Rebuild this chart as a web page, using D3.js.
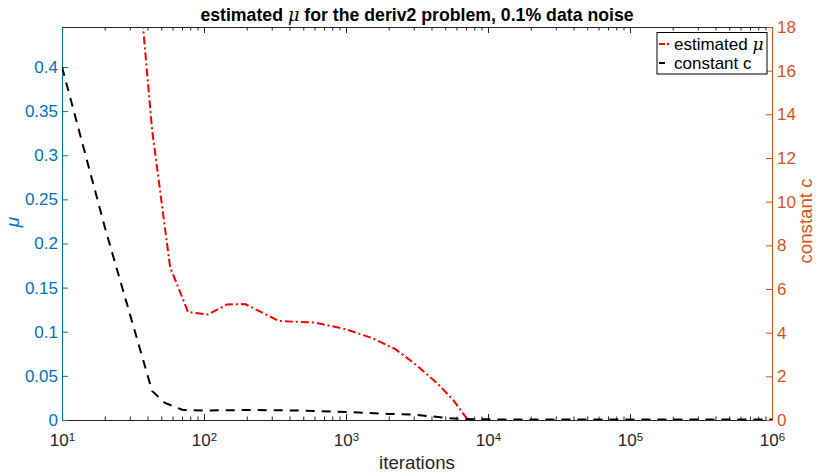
<!DOCTYPE html>
<html>
<head>
<meta charset="utf-8">
<script src="https://cdn.jsdelivr.net/npm/d3@7/dist/d3.min.js"></script>
<style>
  body { margin: 0; background: #fff; }
  svg { display: block; }
  text { font-family: "Liberation Sans", Arial, Helvetica, sans-serif; }
</style>
</head>
<body>
<svg id="chart" width="820" height="476"></svg>
<script>
// estimated regularisation parameter mu per iteration count (left axis)
const muIterations = [32.2, 43.1, 57.7, 77.2, 106.6, 145, 194.4, 337, 605, 984, 1524, 2213, 3062, 4375, 5675, 7230];
const muValues     = [0.561, 0.3286, 0.1734, 0.1224, 0.1195, 0.1309, 0.1314, 0.1122, 0.1103, 0.1031, 0.0929, 0.0805, 0.0635, 0.0419, 0.0227, 0.0];

// constant c per iteration count (right axis)
const cIterations = [10, 20.1, 43.1, 53.1, 71.1, 100, 211, 474, 1000, 2010, 2965, 5140, 6670, 12160, 100000, 1000000];
const cValues     = [16.17, 8.79, 1.33, 0.78, 0.46, 0.435, 0.458, 0.435, 0.366, 0.275, 0.252, 0.092, 0.046, 0.023, 0.02, 0.02];

const xDecades = [1, 2, 3, 4, 5, 6];
const muTicks = [0, 0.05, 0.1, 0.15, 0.2, 0.25, 0.3, 0.35, 0.4];
const cTicks = [0, 2, 4, 6, 8, 10, 12, 14, 16, 18];

const titleText = "for the deriv2 problem, 0.1% data noise";
const legendLabels = ["estimated ", "constant c"];

const blue = "#0072BD", orange = "#D95319", axisGray = "#262626";
const plotLeft = 62, plotRight = 772, plotTop = 27, plotBottom = 420;
const tickFont = 17, labelFont = 18.7;

const svg = d3.select("#chart");

const x = d3.scaleLog().domain([10, 1e6]).range([plotLeft, plotRight]);
const yMu = d3.scaleLinear().domain([0, 0.4453]).range([plotBottom, plotTop]);
const yC = d3.scaleLinear().domain([0, 18]).range([plotBottom, plotTop]);

const majorX = xDecades.map(e => Math.pow(10, e));
const minorX = [];
for (let e = 1; e < 6; e++) for (let m = 2; m <= 9; m++) minorX.push(m * Math.pow(10, e));

// clip region for the data lines
svg.append("defs").append("clipPath").attr("id", "plotClip")
  .append("rect").attr("x", plotLeft).attr("y", plotTop)
  .attr("width", plotRight - plotLeft).attr("height", plotBottom - plotTop);

function styleAxis(g, color) {
  g.selectAll(".domain").attr("stroke", color);
  g.selectAll(".tick line").attr("stroke", color);
  g.selectAll(".tick text").attr("fill", color);
}

// bottom axis: major and minor ticks point inward
const gxMinor = svg.append("g").attr("transform", `translate(0,${plotBottom})`)
  .call(d3.axisBottom(x).tickValues(minorX).tickSize(-3.5).tickFormat(""));
gxMinor.select(".domain").remove();
gxMinor.selectAll(".tick line").attr("stroke", axisGray);

const gx = svg.append("g").attr("transform", `translate(0,${plotBottom})`)
  .call(d3.axisBottom(x).tickValues(majorX).tickSize(-6).tickSizeOuter(0).tickFormat(""));
styleAxis(gx, axisGray);
gx.selectAll(".tick").each(function(d) {
  const t = d3.select(this).append("text")
    .attr("fill", axisGray).attr("font-size", tickFont).attr("text-anchor", "middle")
    .attr("y", 26).attr("x", 0);
  t.append("tspan").text("10");
  t.append("tspan").attr("font-size", 11.5).attr("dy", -5).text(String(Math.round(Math.log10(d))));
});

// top box edge with ticks pointing down
const gxTopMinor = svg.append("g").attr("transform", `translate(0,${plotTop})`)
  .call(d3.axisTop(x).tickValues(minorX).tickSize(-3.5).tickFormat(""));
gxTopMinor.select(".domain").remove();
gxTopMinor.selectAll(".tick line").attr("stroke", axisGray);
const gxTop = svg.append("g").attr("transform", `translate(0,${plotTop})`)
  .call(d3.axisTop(x).tickValues(majorX).tickSize(-6).tickSizeOuter(0).tickFormat(""));
styleAxis(gxTop, axisGray);

// left axis (mu)
const gyL = svg.append("g").attr("transform", `translate(${plotLeft},0)`)
  .call(d3.axisLeft(yMu).tickValues(muTicks).tickSize(-6).tickSizeOuter(0).tickPadding(4).tickFormat(d => d3.format("")(d)));
styleAxis(gyL, blue);
gyL.selectAll(".tick text").attr("font-size", tickFont);

// right axis (c)
const gyR = svg.append("g").attr("transform", `translate(${plotRight},0)`)
  .call(d3.axisRight(yC).tickValues(cTicks).tickSize(-6).tickSizeOuter(0).tickPadding(5));
styleAxis(gyR, orange);
gyR.selectAll(".tick text").attr("font-size", tickFont);

// data lines
const plot = svg.append("g").attr("clip-path", "url(#plotClip)");

const muLine = d3.line().x((d, i) => x(muIterations[i])).y(d => yMu(d));
plot.append("path").datum(muValues)
  .attr("d", muLine)
  .attr("fill", "none").attr("stroke", "#ff0000").attr("stroke-width", 2)
  .attr("stroke-dasharray", "8,3,2,3");

const cLine = d3.line().x((d, i) => x(cIterations[i])).y(d => yC(d));
plot.append("path").datum(cValues)
  .attr("d", cLine)
  .attr("fill", "none").attr("stroke", "#000").attr("stroke-width", 2)
  .attr("stroke-dasharray", "9,7");

// title
const title = svg.append("text").attr("x", (plotLeft + plotRight) / 2).attr("y", 21)
  .attr("text-anchor", "middle").attr("font-size", 17.7).attr("font-weight", "bold").attr("fill", "#000");
title.append("tspan").text("estimated ");
title.append("tspan").attr("font-family", "'DejaVu Serif', serif").attr("font-style", "italic").attr("font-weight", "normal").text("μ");
title.append("tspan").text(" " + titleText);

// axis labels
svg.append("text").attr("transform", `translate(19,222) rotate(-90)`)
  .attr("text-anchor", "middle").attr("font-size", 19).attr("fill", blue)
  .attr("font-family", "'DejaVu Serif', serif").attr("font-style", "italic").text("μ");

svg.append("text").attr("transform", `translate(812,221) rotate(-90)`)
  .attr("text-anchor", "middle").attr("font-size", labelFont).attr("fill", orange).text("constant c");

svg.append("text").attr("x", (plotLeft + plotRight) / 2).attr("y", 469)
  .attr("text-anchor", "middle").attr("font-size", labelFont).attr("fill", axisGray).text("iterations");

// legend
const lg = svg.append("g");
lg.append("rect").attr("x", 657).attr("y", 32.5).attr("width", 110).attr("height", 41.5)
  .attr("fill", "#fff").attr("stroke", "#000").attr("stroke-width", 1);
lg.append("line").attr("x1", 659).attr("x2", 673).attr("y1", 44).attr("y2", 44)
  .attr("stroke", "#ff0000").attr("stroke-width", 2).attr("stroke-dasharray", "6,2,2,4");
lg.append("line").attr("x1", 659).attr("x2", 665).attr("y1", 63).attr("y2", 63)
  .attr("stroke", "#000").attr("stroke-width", 2);
const l1 = lg.append("text").attr("x", 674).attr("y", 50).attr("font-size", tickFont).attr("fill", "#000");
l1.append("tspan").text(legendLabels[0]);
l1.append("tspan").attr("font-family", "'DejaVu Serif', serif").attr("font-style", "italic").text("μ");
lg.append("text").attr("x", 674).attr("y", 69).attr("font-size", tickFont).attr("fill", "#000").text(legendLabels[1]);
</script>
</body>
</html>
